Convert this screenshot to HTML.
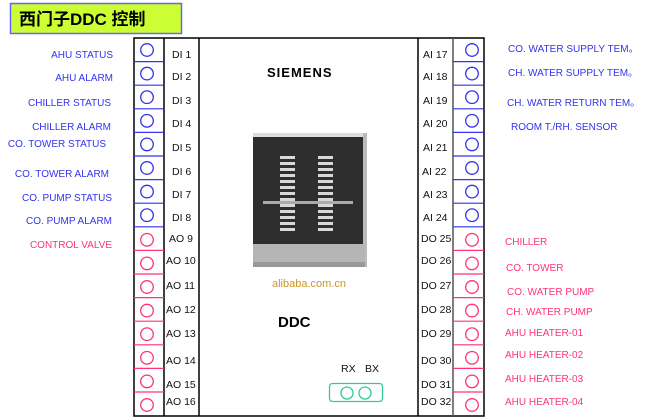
<!DOCTYPE html>
<html><head><meta charset="utf-8"><style>
html,body{margin:0;padding:0;background:#fff;}
svg{display:block;}
text{font-family:"Liberation Sans","Noto Sans CJK SC",sans-serif;}
</style></head><body>
<svg width="650" height="418" viewBox="0 0 650 418" xmlns="http://www.w3.org/2000/svg">
<rect x="10.5" y="3.5" width="171" height="30" fill="#ccff33" stroke="#6666ff" stroke-width="1.5"/>
<text x="19" y="25" font-size="17" font-weight="bold" fill="#000">西门子DDC 控制</text>

<rect x="134" y="38" width="350" height="378" fill="#fff" stroke="#000" stroke-width="1.5"/>
<line x1="164" y1="38" x2="164" y2="416" stroke="#000" stroke-width="1.5"/>
<line x1="199" y1="38" x2="199" y2="416" stroke="#000" stroke-width="1.5"/>
<line x1="418" y1="38" x2="418" y2="416" stroke="#000" stroke-width="1.5"/>
<line x1="453" y1="38" x2="453" y2="416" stroke="#555" stroke-width="1.5"/>

<g stroke="#3333ee" stroke-width="1.2">
<line x1="134" y1="61.6" x2="164" y2="61.6"/><line x1="453" y1="61.6" x2="484" y2="61.6"/>
<line x1="134" y1="85.2" x2="164" y2="85.2"/><line x1="453" y1="85.2" x2="484" y2="85.2"/>
<line x1="134" y1="108.8" x2="164" y2="108.8"/><line x1="453" y1="108.8" x2="484" y2="108.8"/>
<line x1="134" y1="132.4" x2="164" y2="132.4"/><line x1="453" y1="132.4" x2="484" y2="132.4"/>
<line x1="134" y1="156" x2="164" y2="156"/><line x1="453" y1="156" x2="484" y2="156"/>
<line x1="134" y1="179.6" x2="164" y2="179.6"/><line x1="453" y1="179.6" x2="484" y2="179.6"/>
<line x1="134" y1="203.2" x2="164" y2="203.2"/><line x1="453" y1="203.2" x2="484" y2="203.2"/>
<line x1="134" y1="226.8" x2="164" y2="226.8"/><line x1="453" y1="226.8" x2="484" y2="226.8"/>
</g>
<g stroke="#ff3377" stroke-width="1.2">
<line x1="134" y1="250.4" x2="164" y2="250.4"/><line x1="453" y1="250.4" x2="484" y2="250.4"/>
<line x1="134" y1="274" x2="164" y2="274"/><line x1="453" y1="274" x2="484" y2="274"/>
<line x1="134" y1="297.6" x2="164" y2="297.6"/><line x1="453" y1="297.6" x2="484" y2="297.6"/>
<line x1="134" y1="321.2" x2="164" y2="321.2"/><line x1="453" y1="321.2" x2="484" y2="321.2"/>
<line x1="134" y1="344.8" x2="164" y2="344.8"/><line x1="453" y1="344.8" x2="484" y2="344.8"/>
<line x1="134" y1="368.4" x2="164" y2="368.4"/><line x1="453" y1="368.4" x2="484" y2="368.4"/>
<line x1="134" y1="392" x2="164" y2="392"/><line x1="453" y1="392" x2="484" y2="392"/>
</g>
<g fill="none" stroke="#3333ee" stroke-width="1.3">
<circle cx="147" cy="50" r="6.3"/><circle cx="472" cy="50" r="6.3"/>
<circle cx="147" cy="73.6" r="6.3"/><circle cx="472" cy="73.6" r="6.3"/>
<circle cx="147" cy="97.2" r="6.3"/><circle cx="472" cy="97.2" r="6.3"/>
<circle cx="147" cy="120.8" r="6.3"/><circle cx="472" cy="120.8" r="6.3"/>
<circle cx="147" cy="144.4" r="6.3"/><circle cx="472" cy="144.4" r="6.3"/>
<circle cx="147" cy="168" r="6.3"/><circle cx="472" cy="168" r="6.3"/>
<circle cx="147" cy="191.6" r="6.3"/><circle cx="472" cy="191.6" r="6.3"/>
<circle cx="147" cy="215.2" r="6.3"/><circle cx="472" cy="215.2" r="6.3"/>
</g>
<g fill="none" stroke="#ff3377" stroke-width="1.3">
<circle cx="147" cy="239.8" r="6.3"/><circle cx="472" cy="239.8" r="6.3"/>
<circle cx="147" cy="263.4" r="6.3"/><circle cx="472" cy="263.4" r="6.3"/>
<circle cx="147" cy="287" r="6.3"/><circle cx="472" cy="287" r="6.3"/>
<circle cx="147" cy="310.6" r="6.3"/><circle cx="472" cy="310.6" r="6.3"/>
<circle cx="147" cy="334.2" r="6.3"/><circle cx="472" cy="334.2" r="6.3"/>
<circle cx="147" cy="357.8" r="6.3"/><circle cx="472" cy="357.8" r="6.3"/>
<circle cx="147" cy="381.4" r="6.3"/><circle cx="472" cy="381.4" r="6.3"/>
<circle cx="147" cy="405" r="6.3"/><circle cx="472" cy="405" r="6.3"/>
</g>

<g font-size="10.5" fill="#111">
<text x="172" y="58">DI 1</text><text x="172" y="80">DI 2</text><text x="172" y="104">DI 3</text><text x="172" y="127">DI 4</text>
<text x="172" y="151">DI 5</text><text x="172" y="175">DI 6</text><text x="172" y="198">DI 7</text><text x="172" y="221">DI 8</text>
<text x="169" y="242">AO 9</text><text x="166" y="264">AO 10</text><text x="166" y="289">AO 11</text><text x="166" y="313">AO 12</text>
<text x="166" y="337">AO 13</text><text x="166" y="364">AO 14</text><text x="166" y="388">AO 15</text><text x="166" y="405">AO 16</text>
<text x="423" y="58">AI 17</text><text x="423" y="80">AI 18</text><text x="423" y="104">AI 19</text><text x="423" y="127">AI 20</text>
<text x="423" y="151">AI 21</text><text x="422" y="175">AI 22</text><text x="423" y="198">AI 23</text><text x="423" y="221">AI 24</text>
<text x="421" y="242">DO 25</text><text x="421" y="264">DO 26</text><text x="421" y="289">DO 27</text><text x="421" y="313">DO 28</text>
<text x="421" y="337">DO 29</text><text x="421" y="364">DO 30</text><text x="421" y="388">DO 31</text><text x="421" y="405">DO 32</text>
</g>

<g font-size="10" fill="#3333ee" text-anchor="end">
<text x="113" y="58">AHU STATUS</text>
<text x="113" y="81">AHU ALARM</text>
<text x="111" y="106">CHILLER STATUS</text>
<text x="111" y="130">CHILLER ALARM</text>
<text x="106" y="147">CO. TOWER STATUS</text>
<text x="109" y="177">CO. TOWER ALARM</text>
<text x="112" y="201">CO. PUMP STATUS</text>
<text x="112" y="224">CO. PUMP ALARM</text>
</g>
<text x="112" y="248" font-size="10" fill="#ff3377" text-anchor="end">CONTROL VALVE</text>

<g font-size="10" fill="#3333ee">
<text x="508" y="52">CO. WATER SUPPLY TEM。</text>
<text x="508" y="76">CH. WATER SUPPLY TEM。</text>
<text x="507" y="106">CH. WATER RETURN TEM。</text>
<text x="511" y="130">ROOM T./RH. SENSOR</text>
</g>
<g font-size="10" fill="#ff3377">
<text x="505" y="245">CHILLER</text>
<text x="506" y="271">CO. TOWER</text>
<text x="507" y="295">CO. WATER PUMP</text>
<text x="506" y="315">CH. WATER PUMP</text>
<text x="505" y="336">AHU HEATER-01</text>
<text x="505" y="358">AHU HEATER-02</text>
<text x="505" y="382">AHU HEATER-03</text>
<text x="505" y="405">AHU HEATER-04</text>
</g>

<text x="267" y="77" font-size="13" font-weight="bold" fill="#000" letter-spacing="1">SIEMENS</text>
<text x="278" y="327" font-size="15" font-weight="bold" fill="#000">DDC</text>

<rect x="253" y="133" width="110" height="5" fill="#ddd"/>
<rect x="363" y="133" width="4" height="134" fill="#bbb"/>
<rect x="253" y="137" width="110" height="107" fill="#2e2e2e"/>
<rect x="253" y="244" width="112" height="23" fill="#b5b5b5"/>
<rect x="253" y="262" width="112" height="5" fill="#999"/>
<g fill="#d8d8d8">
<rect x="280" y="156" width="15" height="3"/><rect x="280" y="162" width="15" height="3"/><rect x="280" y="168" width="15" height="3"/>
<rect x="280" y="174" width="15" height="3"/><rect x="280" y="180" width="15" height="3"/><rect x="280" y="186" width="15" height="3"/>
<rect x="280" y="192" width="15" height="3"/><rect x="280" y="198" width="15" height="3"/><rect x="280" y="204" width="15" height="3"/>
<rect x="280" y="210" width="15" height="3"/><rect x="280" y="216" width="15" height="3"/><rect x="280" y="222" width="15" height="3"/><rect x="280" y="228" width="15" height="3"/>
<rect x="318" y="156" width="15" height="3"/><rect x="318" y="162" width="15" height="3"/><rect x="318" y="168" width="15" height="3"/>
<rect x="318" y="174" width="15" height="3"/><rect x="318" y="180" width="15" height="3"/><rect x="318" y="186" width="15" height="3"/>
<rect x="318" y="192" width="15" height="3"/><rect x="318" y="198" width="15" height="3"/><rect x="318" y="204" width="15" height="3"/>
<rect x="318" y="210" width="15" height="3"/><rect x="318" y="216" width="15" height="3"/><rect x="318" y="222" width="15" height="3"/><rect x="318" y="228" width="15" height="3"/>
<rect x="263" y="201" width="90" height="3" fill="#aaa"/>
</g>
<text x="272" y="287" font-size="11" fill="#c8962c">alibaba.com.cn</text>

<text x="341" y="372" font-size="10.5" fill="#111">RX</text>
<text x="365" y="372" font-size="10.5" fill="#111">BX</text>
<rect x="329.5" y="383.5" width="53" height="18" rx="3" fill="none" stroke="#33cc99" stroke-width="1.3"/>
<circle cx="347" cy="393" r="6" fill="none" stroke="#33cc99" stroke-width="1.3"/>
<circle cx="365" cy="393" r="6" fill="none" stroke="#33cc99" stroke-width="1.3"/>
</svg>
</body></html>
